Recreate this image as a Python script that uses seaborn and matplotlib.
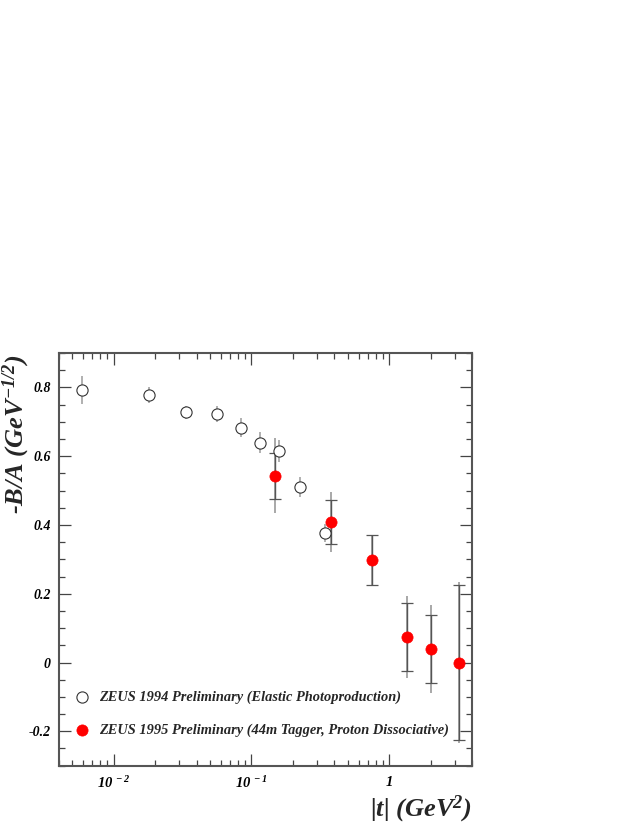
import numpy as np
import pandas as pd
import matplotlib
matplotlib.use('Agg')
import matplotlib.pyplot as plt
import seaborn as sns
from matplotlib.ticker import FixedLocator, LogLocator, MultipleLocator, NullFormatter, FuncFormatter

# ZEUS 1994 (elastic photoproduction)
t94 = [0.0059, 0.018, 0.0337, 0.056, 0.0836, 0.115, 0.158, 0.224, 0.344]
ba94 = [0.792, 0.778, 0.728, 0.723, 0.683, 0.639, 0.615, 0.510, 0.377]
err94 = [0.041, 0.024, 0.019, 0.024, 0.027, 0.030, 0.031, 0.030, 0.027]

# ZEUS 1995 (44m tagger, proton dissociative)
t95 = [0.149, 0.381, 0.75, 1.34, 2.01, 3.22]
ba95 = [0.543, 0.409, 0.298, 0.074, 0.039, 0.0]
stat95 = [0.067, 0.065, 0.073, 0.100, 0.100, 0.226]
tot95 = [0.109, 0.088, 0.073, 0.120, 0.129, 0.233]

xtick_vals = [0.01, 0.1, 1.0]
xtick_labels = [r'$10^{\ -2}$', r'$10^{\ -1}$', r'$1$']

label94 = 'ZEUS 1994 Preliminary (Elastic Photoproduction)'
label95 = 'ZEUS 1995 Preliminary (44m Tagger, Proton Dissociative)'

df94 = pd.DataFrame({'t': t94, 'ba': ba94})
df95 = pd.DataFrame({'t': t95, 'ba': ba95})

sns.set_style("ticks")
plt.rcParams['font.family'] = ['Liberation Serif', 'DejaVu Serif']
plt.rcParams['mathtext.fontset'] = 'custom'
plt.rcParams['mathtext.rm'] = 'Liberation Serif:bold:italic'
plt.rcParams['mathtext.it'] = 'Liberation Serif:bold:italic'
plt.rcParams['mathtext.bf'] = 'Liberation Serif:bold:italic'

fig = plt.figure(figsize=(6.38, 8.25), dpi=100)
ax = fig.add_axes([0.0925, 0.0719, 0.6473, 0.5002])

# error bars
ax.errorbar(t94, ba94, yerr=err94, fmt='none', ecolor='#b0b0b0', elinewidth=1.4, zorder=2)
ax.errorbar(t95, ba95, yerr=tot95, fmt='none', ecolor='#a8a8a8', elinewidth=1.4, zorder=2)
ax.errorbar(t95, ba95, yerr=stat95, fmt='none', ecolor='#555555', elinewidth=1.0,
            capsize=4, capthick=0.9, zorder=3)

# points
sns.scatterplot(data=df94, x='t', y='ba', ax=ax, marker='o', s=65,
                facecolor='white', edgecolor='#333333', linewidth=0.8, zorder=4,
                label=label94)
sns.scatterplot(data=df95, x='t', y='ba', ax=ax, marker='o', s=65,
                color='#ff0000', edgecolor='#ff0000', linewidth=0.5, zorder=5,
                label=label95)

ax.set_xscale('log')
ax.set_xlim(0.004, 4.0)
ax.set_ylim(-0.3, 0.9)

ax.xaxis.set_major_locator(FixedLocator(xtick_vals))
ax.xaxis.set_minor_locator(LogLocator(base=10, subs=np.arange(2, 10)))
ax.xaxis.set_minor_formatter(NullFormatter())
ax.set_xticklabels(xtick_labels)
ax.yaxis.set_major_locator(MultipleLocator(0.2))
ax.yaxis.set_minor_locator(MultipleLocator(0.05))
ax.yaxis.set_major_formatter(FuncFormatter(
    lambda v, p: '0' if abs(v) < 1e-9 else f'{v:.1f}'))

ax.tick_params(which='both', direction='in', top=True, right=True, colors='#444444',
               labelcolor='black')
ax.tick_params(which='major', length=8.5, width=0.9)
ax.tick_params(which='minor', length=4.5, width=0.9)
ax.tick_params(axis='x', which='major', pad=7, labelsize=10.5)
ax.tick_params(axis='y', which='major', pad=6, labelsize=10)
for lab in ax.get_xticklabels() + ax.get_yticklabels():
    lab.set_fontweight('bold')
    lab.set_fontstyle('italic')

for sp in ax.spines.values():
    sp.set_color('#555555')
    sp.set_linewidth(1.5)

ax.set_xlabel(r'|t| (GeV$^{2}$)', fontsize=19, fontweight='bold', fontstyle='italic',
              loc='right', labelpad=2)
ax.set_ylabel(r'-B/A (GeV$^{-1/2}$)', fontsize=19, fontweight='bold', fontstyle='italic',
              loc='top')
ax.yaxis.label.set_va('center')
ax.yaxis.set_label_coords(-0.103, 0.998)

leg = ax.legend(loc='lower left', bbox_to_anchor=(-0.01, 0.037), frameon=False,
                prop={'family': 'Liberation Serif', 'weight': 'bold', 'style': 'italic', 'size': 10.4},
                labelspacing=1.37, handletextpad=0.15, markerscale=1.0)

plt.savefig('out.png', dpi=100)
plt.close()
